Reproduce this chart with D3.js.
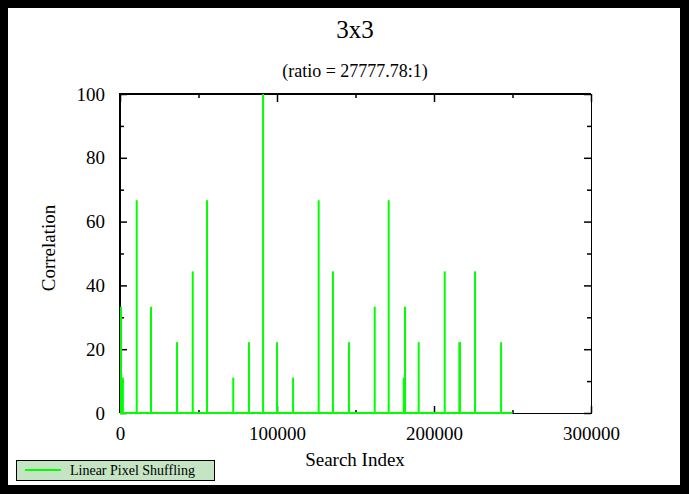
<!DOCTYPE html>
<html>
<head>
<meta charset="utf-8">
<script src="https://cdn.jsdelivr.net/npm/d3@7"></script>
<style>
html,body{margin:0;padding:0;background:#000;}
svg{display:block;}
</style>
</head>
<body>
<svg id="chart" width="689" height="494"></svg>
<script>
// ---- data ----
const title = "3x3";
const subtitle = "(ratio = 27777.78:1)";
const xLabel = "Search Index";
const yLabel = "Correlation";
const seriesName = "Linear Pixel Shuffling";
const xDomain = [0, 300000];
const yDomain = [0, 100];
const dataEnd = 250000;
const spikeIndex = [0, 1200, 10000, 19100, 35700, 45700, 54800, 71500, 81500, 90500, 99400,
  109600, 125900, 135000, 145200, 161600, 170500, 180100, 180900, 189600, 206200, 215500, 215900, 225500, 242100];
const spikeValue = [33.3, 11.1, 66.7, 33.3, 22.2, 44.4, 66.7, 11.1, 22.2, 100, 22.2,
  11.1, 66.7, 44.4, 22.2, 33.3, 66.7, 11.1, 33.3, 22.2, 44.4, 22.2, 22.2, 44.4, 22.2];
const xTicks = [0, 100000, 200000, 300000];
const xMinorTicks = [50000, 150000, 250000];
const yTicks = [0, 20, 40, 60, 80, 100];
const yMinorTicks = [10, 30, 50, 70, 90];

// ---- layout ----
const FONT = '"Liberation Serif","DejaVu Serif",serif';
const svg = d3.select("#chart");
const L = 120, R = 591, T = 94, B = 413;
const x = d3.scaleLinear().domain(xDomain).range([L, R]);
const y = d3.scaleLinear().domain(yDomain).range([B, T]);

svg.append("rect").attr("x", 8).attr("y", 8).attr("width", 672).attr("height", 477).attr("fill", "#fff");

function txt(xp, yp, s, size, anchor) {
  return svg.append("text").attr("x", xp).attr("y", yp).attr("text-anchor", anchor || "middle")
    .attr("font-family", FONT).attr("font-size", size).attr("fill", "#000").text(s);
}
txt(355, 38, title, 25);
txt(355, 77, subtitle, 18);

// frame
svg.append("line").attr("x1", L).attr("x2", R).attr("y1", T).attr("y2", T).attr("stroke", "#000").attr("stroke-width", 2);
svg.append("line").attr("x1", L).attr("x2", L).attr("y1", T - 1).attr("y2", B).attr("stroke", "#000").attr("stroke-width", 2);
svg.append("line").attr("x1", L).attr("x2", R).attr("y1", B + 0.5).attr("y2", B + 0.5).attr("stroke", "#000").attr("stroke-width", 1);
svg.append("line").attr("x1", R + 0.5).attr("x2", R + 0.5).attr("y1", T).attr("y2", B + 1).attr("stroke", "#000").attr("stroke-width", 1);

// axes via d3 (inward ticks)
const fmt = d3.format("d");
const axB = d3.axisBottom(x).tickValues(xTicks).tickSize(-7).tickPadding(14).tickFormat(fmt);
const axT = d3.axisTop(x).tickValues(xTicks).tickSize(-8).tickFormat("");
const axL = d3.axisLeft(y).tickValues(yTicks).tickSize(-7).tickPadding(15).tickFormat(fmt);
const axR = d3.axisRight(y).tickValues(yTicks).tickSize(-7).tickFormat("");
const axBm = d3.axisBottom(x).tickValues(xMinorTicks).tickSize(-3).tickFormat("");
const axTm = d3.axisTop(x).tickValues(xMinorTicks).tickSize(-4).tickFormat("");
const axLm = d3.axisLeft(y).tickValues(yMinorTicks).tickSize(-4).tickFormat("");
const axRm = d3.axisRight(y).tickValues(yMinorTicks).tickSize(-4).tickFormat("");

function put(ax, tx, ty) {
  const g = svg.append("g").attr("transform", `translate(${tx},${ty})`).call(ax)
    .attr("font-family", FONT).attr("font-size", 19);
  g.select(".domain").remove();
  g.selectAll(".tick line").attr("stroke", "#000").attr("stroke-width", 1.5);
  g.selectAll(".tick text").attr("fill", "#000");
  return g;
}
put(axB, 0, B);
put(axT, 0, T);
put(axL, L, 0);
put(axR, R, 0);
put(axBm, 0, B);
put(axTm, 0, T);
put(axLm, L, 0);
put(axRm, R, 0);

// series
const g = svg.append("g");
g.append("line").attr("x1", x(0)).attr("x2", x(dataEnd)).attr("y1", y(0)).attr("y2", y(0))
  .attr("stroke", "#00ff00").attr("stroke-width", 2);
g.selectAll("line.spike").data(spikeIndex.map((d, i) => [d, spikeValue[i]])).enter()
  .append("line").attr("class", "spike")
  .attr("x1", d => x(d[0]) + 1).attr("x2", d => x(d[0]) + 1)
  .attr("y1", y(0)).attr("y2", d => y(d[1]))
  .attr("stroke", "#00ff00").attr("stroke-width", 2);

// labels
txt(355, 466, xLabel, 19);
svg.append("text").attr("transform", "translate(55,248) rotate(-90)").attr("text-anchor", "middle")
  .attr("font-family", FONT).attr("font-size", 19).attr("fill", "#000").text(yLabel);

// legend
svg.append("rect").attr("x", 16.5).attr("y", 460.5).attr("width", 198).attr("height", 20)
  .attr("fill", "#c4e4c4").attr("stroke", "#000").attr("stroke-width", 1);
svg.append("line").attr("x1", 25).attr("x2", 61).attr("y1", 470).attr("y2", 470)
  .attr("stroke", "#00ff00").attr("stroke-width", 2);
txt(70, 475, seriesName, 14, "start");
</script>
</body>
</html>
